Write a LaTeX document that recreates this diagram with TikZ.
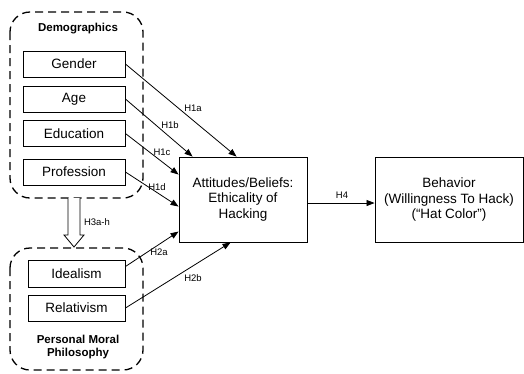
\documentclass[tikz,border=0pt]{standalone}
\usepackage{fontspec}
\setmainfont{Liberation Sans}
\usetikzlibrary{arrows.meta,calc}
\begin{document}
\begin{tikzpicture}[x=1pt,y=-1pt,
  box/.style={draw, line width=0.9pt, rectangle, minimum width=102pt, minimum height=26pt, inner sep=0pt, font=\fontsize{13.5}{16}\selectfont},
  bigbox/.style={draw, line width=0.9pt, rectangle, inner sep=0pt, align=center, font=\fontsize{13.5}{15.5}\selectfont},
  group/.style={draw, line width=1.3pt, dash pattern=on 8pt off 5pt, rounded corners=20pt},
  hlab/.style={font=\fontsize{9.5}{11}\selectfont, inner sep=0pt},
  glab/.style={font=\bfseries\fontsize{11.5}{13.5}\selectfont, align=center, inner sep=0pt},
  conn/.style={line width=0.8pt, -{Triangle[length=8pt,width=6pt]}}]
\useasboundingbox (0,0) rectangle (524,373);
% group containers
\draw[group] (10,12) rectangle (143,198);
\draw[group] (10,248) rectangle (143,370);
\node[glab] (demlab) at (78,29) {Demographics};
\node[glab] (pmplab) at (78,347) {Personal Moral\\Philosophy};
% boxes
\node[box] (gender) at (74,64) {Gender};
\node[box] (age) at (74,99) {Age};
\node[box] (edu) at (74,133.5) {Education};
\node[box] (prof) at (74,172) {Profession};
\node[box, minimum width=97pt, minimum height=27pt] (ideal) at (76.5,273.5) {Idealism};
\node[box, minimum width=97pt] (rel) at (76.5,308) {Relativism};
\node[bigbox, minimum width=128pt, minimum height=85pt] (att) at (243,199.5) {Attitudes/Beliefs:\\Ethicality of\\Hacking};
\node[bigbox, minimum width=148pt, minimum height=85pt] (beh) at (449,199.5) {Behavior\\(Willingness To Hack)\\(“Hat Color”)};
% connectors
\draw[conn] (gender.east) -- ([xshift=58pt]att.north west);
\draw[conn] (age.east) -- ([xshift=14pt]att.north west);
\draw[conn] (edu.east) -- ([yshift=-18pt]att.north west);
\draw[conn] (prof.east) -- ([yshift=-50pt]att.north west);
\draw[conn] ([yshift=7pt]ideal.east) -- ([yshift=-75pt]att.north west);
\draw[conn] (rel.east) -- ([xshift=52pt]att.south west);
\draw[conn] (att.east |- 0,203) -- (beh.west |- 0,203);
% hypothesis labels
\node[hlab] (h1a) at (193,108) {H1a};
\node[hlab] (h1b) at (170,125) {H1b};
\node[hlab] (h1c) at (162,152) {H1c};
\node[hlab] (h1d) at (157,187) {H1d};
\node[hlab] (h2a) at (159,252) {H2a};
\node[hlab] (h2b) at (193,278) {H2b};
\node[hlab] (h4) at (342,195) {H4};
\node[hlab] (h3) at (97,222) {H3a-h};
% hollow arrow
\coordinate (hs) at (74,198);
\coordinate (ht) at (74,247);
\draw[line width=0.8pt, fill=white]
  ($(hs)+(-6,0)$) -- ($(ht)+(-6,-12)$) -- ($(ht)+(-10,-12)$) -- (ht)
  -- ($(ht)+(10,-12)$) -- ($(ht)+(6,-12)$) -- ($(hs)+(6,0)$);
\end{tikzpicture}
\end{document}
